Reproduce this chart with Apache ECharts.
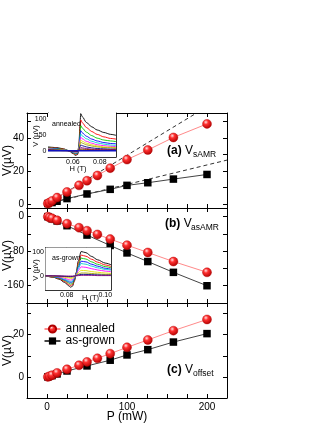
<!DOCTYPE html>
<html>
<head>
<meta charset="utf-8">
<script src="https://cdn.jsdelivr.net/npm/echarts@6/dist/echarts.min.js"></script>
<style>
  html, body { margin: 0; padding: 0; background: #fff; }
  #chart { width: 327px; height: 423px; }
</style>
</head>
<body>
<div id="chart"></div>
<script>
// power steps (mW)
const powerAnn = [1, 3.2, 6.3, 12.6, 25, 40, 50, 63, 79, 100, 126, 158, 200];
const powerGrown = [1, 6.3, 12.6, 25, 50, 79, 100, 126, 158, 200];

// (a) V_sAMR
const sAmrAnn = [0.2, 0.8, 1.8, 3.8, 7.2, 11.2, 14.0, 17.2, 21.6, 26.8, 32.6, 40.2, 48.4];
const sAmrGrown = [0.2, 0.8, 1.6, 3.2, 6.0, 8.8, 11.2, 12.8, 15.0, 17.8];
const sAmrDashAnn = [[0, 0], [187, 55]];
const sAmrDashGrown = [[0, 0], [225, 26.5]];

// (b) V_asAMR
const asAmrAnn = [0, -2.3, -3.9, -8.5, -16.3, -25.6, -32.6, -41.2, -52, -66, -83, -104, -129];
const asAmrGrown = [0, -5, -10, -21, -42.7, -66.8, -84, -104, -129, -160];

// (c) V_offset
const offsetAnn = [0, 0.3, 0.8, 1.9, 3.6, 5.5, 7.1, 8.8, 11.0, 14.0, 17.5, 21.9, 27.2];
const offsetGrown = [0, 0.6, 1.4, 2.8, 5.2, 7.9, 10.4, 12.9, 16.5, 20.5];

// inset (a): annealed spectra
const fieldA = [0.0415, 0.048, 0.053, 0.057, 0.060, 0.062, 0.0635, 0.0645, 0.0652, 0.0658, 0.067, 0.070, 0.074, 0.078, 0.083, 0.088, 0.092];
const curvesA = [
  [12, 10, 6, 0, -9, -15, -12, 20, 80, 118, 108, 90, 76, 66, 58, 52, 49],
  [10, 8, 5, 0, -7, -12, -10, 17, 66, 98, 89, 74, 61, 52, 44, 39, 37],
  [9, 7, 4, 0, -6, -10, -8, 14, 54, 80, 72, 59, 48, 40, 34, 31, 29],
  [8, 6, 3, 0, -5, -8, -7, 11, 43, 64, 57, 46, 37, 31, 26, 23, 22],
  [7, 5, 3, 0, -4, -7, -6, 9, 36, 53, 47, 38, 30, 25, 21, 18, 17],
  [6, 4, 2, 0, -3, -5, -4, 7, 29, 43, 38, 30, 24, 19, 16, 14, 13],
  [5, 4, 2, 0, -3, -4, -3, 6, 23, 34, 30, 24, 19, 15, 12, 11, 10],
  [4, 3, 2, 0, -2, -3, -3, 5, 18, 27, 24, 19, 15, 12, 10, 9, 8],
  [3, 2, 1, 0, -1, -2, -2, 3, 12, 18, 16, 12, 9, 7, 6, 5, 5],
  [2, 1, 1, 0, -1, -1, -1, 2, 7, 10, 9, 7, 5, 4, 3, 3, 3],
  [1, 1, 0, 0, 0, -1, -1, 1, 4, 5, 5, 4, 3, 2, 2, 2, 2],
  [0, 0, 0, 0, 0, 0, 0, 0, 2, 2, 2, 2, 1, 1, 1, 1, 1],
  [0, 0, 0, 0, 0, 0, 0, 0, 0, 0, 0, 0, 0, 0, 0, 0, 0]
];
const colorsA = ['#000000', '#ff0000', '#00c800', '#0000ff', '#00d0d0', '#ff00ff', '#e0e000', '#a0a000', '#000080', '#800080', '#800000', '#808000', '#1010c0'];

// inset (b): as-grown spectra
const fieldB = [0.069, 0.073, 0.076, 0.079, 0.081, 0.082, 0.083, 0.084, 0.085, 0.086, 0.0875, 0.090, 0.093, 0.096, 0.100, 0.103];
const curvesB = [
  [0, -6, -14, -28, -42, -48, -44, -22, 15, 62, 103, 98, 82, 68, 54, 47],
  [0, -5, -12, -24, -36, -41, -37, -19, 13, 53, 88, 83, 70, 58, 46, 40],
  [0, -4, -10, -20, -30, -35, -32, -16, 11, 45, 75, 71, 59, 49, 39, 34],
  [0, -3, -8, -17, -25, -29, -26, -13, 9, 37, 62, 59, 49, 41, 32, 28],
  [0, -3, -7, -14, -21, -24, -22, -11, 8, 31, 52, 49, 41, 34, 27, 24],
  [0, -2, -5, -10, -16, -18, -16, -8, 6, 23, 38, 36, 30, 25, 20, 17],
  [0, -1, -3, -6, -9, -11, -10, -5, 3, 14, 23, 22, 18, 15, 12, 10],
  [0, -1, -2, -3, -5, -6, -5, -3, 2, 7, 12, 12, 10, 8, 6, 6],
  [0, 0, -1, -2, -3, -3, -3, -1, 1, 4, 6, 6, 5, 4, 3, 3],
  [0, 0, 0, -1, -1, -1, -1, 0, 0, 1, 2, 2, 2, 1, 1, 1]
];
const colorsB = ['#000000', '#ff0000', '#00c800', '#0000ff', '#00d0d0', '#ff00ff', '#e0e000', '#a0a000', '#000080', '#800080'];

const FONT = 'Liberation Sans, Arial, sans-serif';

let chart = echarts.init(document.getElementById('chart'), null, {renderer: 'canvas'});

const redBall = new echarts.graphic.RadialGradient(0.38, 0.32, 0.7, [
  {offset: 0, color: '#ffe0e0'},
  {offset: 0.35, color: '#ff3030'},
  {offset: 1, color: '#b00000'}
]);

function pairs(xs, ys) {
  return xs.map((x, i) => [x, ys[i]]);
}

// main panel x axes
function mainX(grid, pos, labels) {
  return {
    type: 'value', gridIndex: grid, position: pos,
    min: -25, max: 225, interval: 25,
    axisLine: {onZero: false, lineStyle: {color: '#000', width: 1}},
    axisTick: {inside: true, length: 4, lineStyle: {color: '#000'}},
    axisLabel: {show: labels, customValues: [0, 100, 200], margin: 4, color: '#000', fontSize: 10, fontFamily: FONT},
    splitLine: {show: false}
  };
}

function mainY(grid, pos, min, max, ticks, labels) {
  return {
    type: 'value', gridIndex: grid, position: pos, min: min, max: max,
    axisLine: {onZero: false, lineStyle: {color: '#000', width: 1}},
    axisTick: {inside: true, length: 4, customValues: ticks, lineStyle: {color: '#000'}},
    axisLabel: {show: pos === 'left', customValues: labels, margin: 3, color: '#000', fontSize: 10, fontFamily: FONT},
    splitLine: {show: false},
    name: pos === 'left' ? 'V(\u00b5V)' : '',
    nameLocation: 'middle', nameGap: 13, nameMoveOverlap: false,
    nameTextStyle: {fontSize: 12, fontFamily: FONT, color: '#000'}
  };
}

function insetX(grid, pos, min, max, ticks, labels) {
  return {
    type: 'value', gridIndex: grid, position: pos, min: min, max: max,
    axisLine: {onZero: false, lineStyle: {color: '#000', width: 0.8}},
    axisTick: {inside: true, length: 2, customValues: ticks, lineStyle: {color: '#000', width: 0.8}},
    axisLabel: {show: pos === 'bottom', customValues: labels, margin: 2, color: '#000', fontSize: 7, fontFamily: FONT,
      formatter: v => v.toFixed(2)},
    splitLine: {show: false}
  };
}

function insetY(grid, pos, min, max, ticks) {
  return {
    type: 'value', gridIndex: grid, position: pos, min: min, max: max,
    axisLine: {onZero: false, lineStyle: {color: '#000', width: 0.8}},
    axisTick: {inside: true, length: 2, customValues: ticks, lineStyle: {color: '#000', width: 0.8}},
    axisLabel: {show: pos === 'left', customValues: ticks, margin: 1.5, color: '#000', fontSize: 7, fontFamily: FONT},
    splitLine: {show: false}
  };
}

function annSeries(name, xi, yi, data) {
  return {
    name: name, type: 'line', xAxisIndex: xi, yAxisIndex: yi,
    data: data, symbol: 'circle', symbolSize: 9, z: 4,
    itemStyle: {color: redBall, borderColor: '#b00000', borderWidth: 0.4},
    lineStyle: {color: '#ff8a8a', width: 1}
  };
}

function grownSeries(name, xi, yi, data) {
  return {
    name: name, type: 'line', xAxisIndex: xi, yAxisIndex: yi,
    data: data, symbol: 'rect', symbolSize: 7.5, z: 3,
    itemStyle: {color: '#000'},
    lineStyle: {color: '#444', width: 1}
  };
}

function dashSeries(xi, yi, data) {
  return {
    type: 'line', xAxisIndex: xi, yAxisIndex: yi, data: data,
    showSymbol: false, symbol: 'none', z: 2, silent: true,
    lineStyle: {color: '#333', width: 1, type: [4, 3]}
  };
}

let series = [];
// panel a
series.push(dashSeries(0, 0, sAmrDashAnn));
series.push(dashSeries(0, 0, sAmrDashGrown));
series.push(grownSeries('as-grown', 0, 0, pairs(powerGrown, sAmrGrown)));
series.push(annSeries('annealed', 0, 0, pairs(powerAnn, sAmrAnn)));
// panel b
series.push(grownSeries('as-grown', 2, 2, pairs(powerGrown, asAmrGrown)));
series.push(annSeries('annealed', 2, 2, pairs(powerAnn, asAmrAnn)));
// panel c
series.push(grownSeries('as-grown', 4, 4, pairs(powerGrown, offsetGrown)));
series.push(annSeries('annealed', 4, 4, pairs(powerAnn, offsetAnn)));
// insets
curvesA.forEach((c, i) => {
  series.push({
    type: 'line', xAxisIndex: 6, yAxisIndex: 6, data: pairs(fieldA, c),
    showSymbol: false, symbol: 'none', z: 6, silent: true,
    smooth: 0.3, smoothMonotone: 'x',
    lineStyle: {color: colorsA[i], width: i === curvesA.length - 1 ? 1.4 : 0.9}
  });
});
curvesB.forEach((c, i) => {
  series.push({
    type: 'line', xAxisIndex: 8, yAxisIndex: 8, data: pairs(fieldB, c),
    showSymbol: false, symbol: 'none', z: 6, silent: true,
    smooth: 0.3, smoothMonotone: 'x',
    lineStyle: {color: colorsB[i], width: 0.9}
  });
});

function label(x, y, tag, sub) {
  return [
    {type: 'text', x: x, y: y, z: 20,
      style: {text: '{b|' + tag + '} V', fill: '#000', font: '12px ' + FONT, verticalAlign: 'middle', align: 'left',
        rich: {b: {fontWeight: 'bold', fontSize: 12, fontFamily: FONT}}}},
    {type: 'text', x: x + 26, y: y + 4.5, z: 20,
      style: {text: sub, fill: '#000', font: '8.5px ' + FONT, verticalAlign: 'middle', align: 'left'}}
  ];
}

chart.setOption({
  backgroundColor: '#fff',
  animation: false,
  textStyle: {fontFamily: FONT},
  grid: [
    {left: 27, top: 113, width: 200, height: 95, outerBoundsMode: 'none'},
    {left: 27, top: 208, width: 200, height: 95, outerBoundsMode: 'none'},
    {left: 27, top: 303, width: 200, height: 95, outerBoundsMode: 'none'},
    {left: 48, top: 113, width: 68, height: 44, outerBoundsMode: 'none', show: true, backgroundColor: '#fff', borderWidth: 0, z: 5},
    {left: 45.5, top: 247.5, width: 65.5, height: 42.5, outerBoundsMode: 'none', show: true, backgroundColor: '#fff', borderWidth: 0, z: 5}
  ],
  xAxis: [
    mainX(0, 'bottom', false), mainX(0, 'top', false),
    mainX(1, 'bottom', false), mainX(1, 'top', false),
    Object.assign(mainX(2, 'bottom', true), {name: 'P (mW)', nameLocation: 'middle', nameGap: 13, nameMoveOverlap: false,
      nameTextStyle: {fontSize: 12, fontFamily: FONT, color: '#000'}}),
    mainX(2, 'top', false),
    insetX(3, 'bottom', 0.0415, 0.092, [0.05, 0.06, 0.07, 0.08, 0.09], [0.06, 0.08]),
    insetX(3, 'top', 0.0415, 0.092, [0.05, 0.06, 0.07, 0.08, 0.09], []),
    insetX(4, 'bottom', 0.069, 0.103, [0.07, 0.08, 0.09, 0.10], [0.08, 0.10]),
    insetX(4, 'top', 0.069, 0.103, [0.07, 0.08, 0.09, 0.10], [])
  ],
  yAxis: [
    mainY(0, 'left', -2.5, 55, [0, 10, 20, 30, 40, 50], [0, 20, 40]),
    mainY(0, 'right', -2.5, 55, [0, 10, 20, 30, 40, 50], []),
    mainY(1, 'left', -200, 20, [0, -40, -80, -120, -160, -200], [0, -80, -160]),
    mainY(1, 'right', -200, 20, [0, -40, -80, -120, -160, -200], []),
    mainY(2, 'left', -10, 35, [-10, 0, 10, 20, 30], [0, 20]),
    mainY(2, 'right', -10, 35, [-10, 0, 10, 20, 30], []),
    insetY(3, 'left', -20, 120, [0, 50, 100]),
    insetY(3, 'right', -20, 120, [0, 50, 100]),
    insetY(4, 'left', -60, 120, [0, 100]),
    insetY(4, 'right', -60, 120, [0, 100])
  ],
  legend: {
    data: ['annealed', 'as-grown'],
    orient: 'vertical', left: 38.5, top: 318,
    itemWidth: 16, itemHeight: 9, itemGap: 0,
    textStyle: {fontSize: 12, lineHeight: 12, fontFamily: FONT, color: '#000'}
  },
  graphic: [].concat(
    label(167, 150.5, '(a)', 'sAMR'),
    label(165, 223.5, '(b)', 'asAMR'),
    label(167, 369.5, '(c)', 'offset'),
    [
      {type: 'text', x: 52, y: 124, z: 20, style: {text: 'annealed', fill: '#000', font: '7px ' + FONT, verticalAlign: 'middle'}},
      {type: 'text', x: 52, y: 258.5, z: 20, style: {text: 'as-grown', fill: '#000', font: '7px ' + FONT, verticalAlign: 'middle'}},
      {type: 'text', x: 78, y: 169, z: 20, style: {text: 'H (T)', fill: '#000', font: '7.5px ' + FONT, align: 'center', verticalAlign: 'middle'}},
      {type: 'text', x: 90.5, y: 297.5, z: 20, style: {text: 'H (T)', fill: '#000', font: '7.5px ' + FONT, align: 'center', verticalAlign: 'middle'}},
      {type: 'text', x: 35.5, y: 136, rotation: Math.PI / 2, z: 20, style: {text: 'V (\u00b5V)', fill: '#000', font: '7.5px ' + FONT, align: 'center', verticalAlign: 'middle'}},
      {type: 'text', x: 35.5, y: 270, rotation: Math.PI / 2, z: 20, style: {text: 'V (\u00b5V)', fill: '#000', font: '7.5px ' + FONT, align: 'center', verticalAlign: 'middle'}}
    ]
  ),
  series: series
});
</script>
</body>
</html>
